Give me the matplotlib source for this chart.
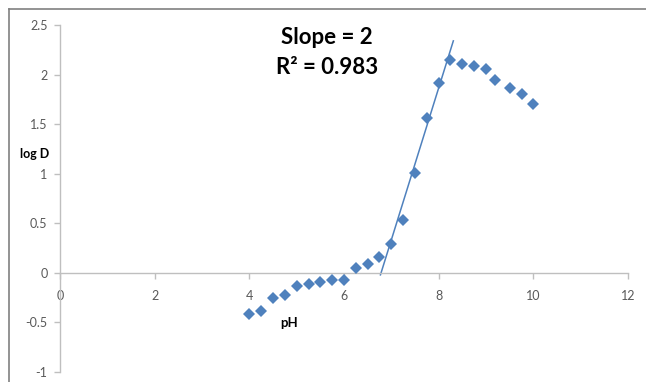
import matplotlib
matplotlib.use("Agg")
import matplotlib.pyplot as plt
from matplotlib.lines import Line2D

# data
ph = [4, 4.25, 4.5, 4.75, 5, 5.25, 5.5, 5.75, 6, 6.25, 6.5, 6.75, 7, 7.25,
      7.5, 7.75, 8, 8.25, 8.5, 8.75, 9, 9.2, 9.5, 9.75, 10]
logd = [-0.41, -0.38, -0.25, -0.22, -0.13, -0.11, -0.09, -0.07, -0.07, 0.05,
        0.09, 0.16, 0.29, 0.53, 1.01, 1.56, 1.91, 2.15, 2.11, 2.09, 2.06,
        1.95, 1.86, 1.80, 1.70]
fit_x = [6.77, 8.31]
fit_y = [-0.02, 2.34]
xticks = [0, 2, 4, 6, 8, 10, 12]
yticks = [-1, -0.5, 0, 0.5, 1, 1.5, 2, 2.5]
ytick_labels = ["-1", "-0.5", "0", "0.5", "1", "1.5", "2", "2.5"]

plt.rcParams['font.family'] = ['Lato', 'DejaVu Sans']
blue = "#4F81BD"
axc = "#BFBFBF"
txt = "#595959"

fig = plt.figure(figsize=(6.46, 3.82), dpi=100)
W, H = 646, 382
ax = fig.add_axes([60 / W, 1 - 372 / H, (628 - 60) / W, (372 - 25) / H])

ax.plot(fit_x, fit_y, color=blue, lw=1.1, zorder=2)
ax.plot(ph, logd, linestyle="none", marker="D", markersize=6.2,
        color=blue, markeredgewidth=0, zorder=3)

ax.set_xlim(0, 12)
ax.set_ylim(-1, 2.5)
ax.set_xticks(xticks)
ax.set_xticklabels([str(v) for v in xticks])
ax.set_yticks(yticks)
ax.set_yticklabels(ytick_labels)

for s in ["top", "right"]:
    ax.spines[s].set_visible(False)
ax.spines["bottom"].set_position(("data", 0))
for s in ["left", "bottom"]:
    ax.spines[s].set_color(axc)
    ax.spines[s].set_linewidth(1.0)
ax.tick_params(axis="both", colors=axc, labelcolor=txt, labelsize=9,
               length=4, width=1.0, direction="out")
ax.tick_params(axis="x", pad=8)
ax.tick_params(axis="y", pad=5)

ax.text(-0.53, 1.20, "log D", fontsize=9, fontweight="bold", color="black",
        ha="center", va="center")
ax.text(4.85, -0.51, "pH", fontsize=9.5, fontweight="bold", color="black",
        ha="center", va="center")

fig.text(327 / W, 1 - 38 / H, "Slope = 2", fontsize=16, fontweight="bold",
         ha="center", va="center")
fig.text(327 / W, 1 - 67 / H, "R\u00b2 = 0.983", fontsize=16,
         fontweight="bold", ha="center", va="center")

# screenshot border (top and left)
fig.add_artist(Line2D([9 / W, 1], [1 - 9 / H, 1 - 9 / H], color="#808080",
                      lw=1.2, transform=fig.transFigure))
fig.add_artist(Line2D([9 / W, 9 / W], [0, 1 - 9 / H], color="#808080",
                      lw=1.2, transform=fig.transFigure))

fig.savefig("out.png", dpi=100)
